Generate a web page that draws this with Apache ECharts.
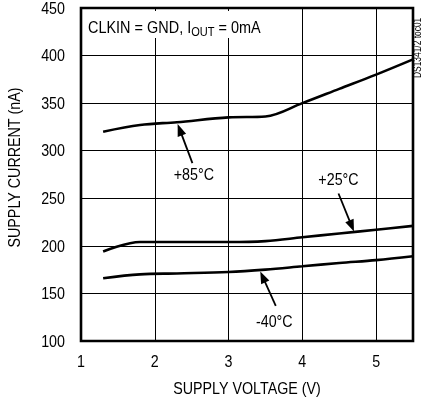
<!DOCTYPE html>
<html><head><meta charset="utf-8">
<script src="https://cdn.jsdelivr.net/npm/echarts@6/dist/echarts.min.js"></script>
<style>html,body{margin:0;padding:0;background:#fff}#c{width:422px;height:404px}</style>
</head><body><div id="c"></div>
<script>
const FONT = '"Liberation Sans", Arial, sans-serif';
const SX = 0.84;
const voltage = [1.3, 1.8, 2.3, 3.0, 3.5, 4.0, 4.5, 5.0, 5.5];
const i85 = [320, 327, 330, 335, 336, 350, 365, 380, 396];
const i25 = [194, 204, 204, 204, 205, 209, 213, 217, 221];
const im40 = [166, 170, 171, 172.5, 175, 178.5, 182, 185, 189];
const xTicks = [1, 2, 3, 4, 5];
const yTicks = [100, 150, 200, 250, 300, 350, 400, 450];
const curveLabels = ['+85°C', '+25°C', '-40°C'];
const labelAt = [[2.53, 274], [4.49, 269], [3.62, 120]];
const arrowFrom = [[2.51, 287], [4.49, 255], [3.64, 137]];
const arrowTo = [[2.31, 328], [4.70, 215], [3.43, 173]];

function pairs(ys){ return voltage.map((v,i)=>[v, ys[i]]); }
const lineStyle = {color:'#000', width:2.6};
const series = [i85, i25, im40].map((ys)=>({
  type:'line', data:pairs(ys), smooth:0.35, showSymbol:false, symbol:'none',
  lineStyle, silent:true, animation:false
}));
series.push({
  type:'custom', silent:true, animation:false, clip:false,
  data: arrowFrom.map((f,i)=>[f[0], f[1], arrowTo[i][0], arrowTo[i][1]]),
  renderItem(params, api){
    const p1 = api.coord([api.value(0), api.value(1)]);
    const p2 = api.coord([api.value(2), api.value(3)]);
    const dx = p2[0]-p1[0], dy = p2[1]-p1[1];
    const L = Math.hypot(dx, dy), ux = dx/L, uy = dy/L;
    const hl = 12, hw = 4.5;
    const bx = p2[0]-ux*hl, by = p2[1]-uy*hl;
    return {type:'group', children:[
      {type:'line', shape:{x1:p1[0], y1:p1[1], x2:bx+ux*2, y2:by+uy*2}, style:{stroke:'#000', lineWidth:1.8}},
      {type:'polygon', shape:{points:[[p2[0],p2[1]],[bx-uy*hw, by+ux*hw],[bx+uy*hw, by-ux*hw]]}, style:{fill:'#000'}}
    ]};
  }
});

const chart = echarts.init(document.getElementById('c'));
chart.setOption({
  animation:false,
  grid:{left:81, right:9, top:8, bottom:63, show:true, borderColor:'#000', borderWidth:2.6, backgroundColor:'transparent'},
  xAxis:{
    type:'value', min:1, max:5.5, interval:1,
    axisLine:{show:false}, axisTick:{show:false}, axisLabel:{show:false},
    splitLine:{show:true, lineStyle:{color:'#000', width:1}}
  },
  yAxis:{
    type:'value', min:100, max:450, interval:50,
    axisLine:{show:false}, axisTick:{show:false}, axisLabel:{show:false},
    splitLine:{show:true, lineStyle:{color:'#000', width:1}}
  },
  series
});

function px(p){ return chart.convertToPixel({gridIndex:0}, p); }
function txt(text, x, y, align, vAlign, size, extra){
  return Object.assign({type:'text', x, y, scaleX:SX, z:60, silent:true, style:{
    text, fill:'#000', fontFamily:FONT, fontSize:size,
    align, verticalAlign:vAlign, textAlign:align, textVerticalAlign:vAlign
  }}, extra||{});
}
const g = [];
const bottom = px([1, 100])[1];
const left = px([1, 100])[0];
xTicks.forEach(v=>{ const p = px([v, 100]); g.push(txt(String(v), p[0], bottom + 21, 'center', 'middle', 17)); });
yTicks.forEach(v=>{ const p = px([1, v]); g.push(txt(String(v), left - 16, p[1] + 1, 'right', 'middle', 17)); });
const mid = px([3.25, 275]);
g.push(txt('SUPPLY VOLTAGE (V)', mid[0], bottom + 48, 'center', 'middle', 17));
g.push(txt('SUPPLY CURRENT (nA)', 15, mid[1] - 7, 'center', 'middle', 17, {rotation:Math.PI/2}));
curveLabels.forEach((t,i)=>{ const p = px(labelAt[i]); g.push(txt(t, p[0], p[1], 'center', 'middle', 17)); });
g.push({type:'rect', x:84, y:11, shape:{width:182, height:27}, style:{fill:'#fff'}, z:50, silent:true});
g.push({type:'text', x:88, y:28, scaleX:0.85, z:61, silent:true, style:{
  text:'{a|CLKIN = GND, I}{s|OUT}{a| = 0mA}', verticalAlign:'middle', textVerticalAlign:'middle',
  rich:{a:{fontFamily:FONT, fontSize:17, fill:'#000'},
        s:{fontFamily:FONT, fontSize:13, fill:'#000', padding:[9,0,0,0]}}
}});
g.push(txt('DS1341/2 toc01', 418, 78, 'left', 'middle', 10, {rotation:Math.PI/2}));
chart.setOption({graphic:g});
</script></body></html>
